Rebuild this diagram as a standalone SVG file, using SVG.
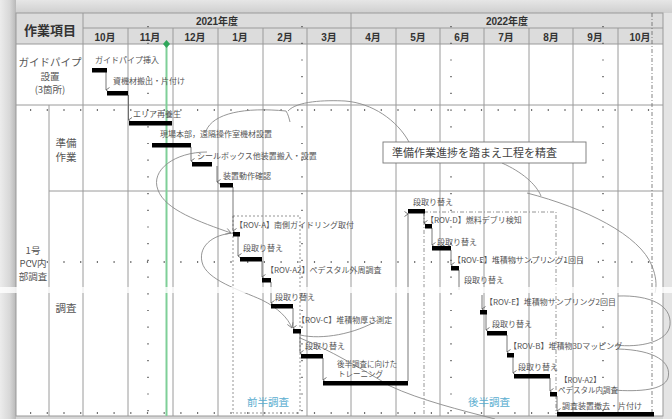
<svg xmlns="http://www.w3.org/2000/svg" width="672" height="419" viewBox="0 0 672 419">
<defs>
<linearGradient id="topg" x1="0" y1="0" x2="0" y2="1"><stop offset="0" stop-color="#e6e6e6"/><stop offset="1" stop-color="#cfcfcf"/></linearGradient>
<linearGradient id="leftg" x1="0" y1="0" x2="1" y2="0"><stop offset="0" stop-color="#ececec"/><stop offset="0.6" stop-color="#d8d8d8"/><stop offset="1" stop-color="#b8b8b8"/></linearGradient>
<marker id="ah" markerWidth="6" markerHeight="6" refX="3" refY="5" orient="auto" markerUnits="userSpaceOnUse">
<path d="M0.5,1.5 L3,5 L5.5,1.5" fill="none" stroke="#555" stroke-width="0.8"/>
</marker>
<marker id="ahc" markerWidth="8" markerHeight="8" refX="6" refY="4" orient="auto" markerUnits="userSpaceOnUse">
<path d="M1,1 L6,4 L1,7" fill="none" stroke="#777" stroke-width="0.8"/>
</marker>
</defs>
<style>
.hd{font-family:"Liberation Sans","Noto Sans CJK JP",sans-serif;font-weight:bold;fill:#333;text-anchor:middle}
.lb{font-family:"Noto Sans CJK JP",sans-serif;fill:#555;font-size:10.5px;text-anchor:middle}
.lbs{font-family:"Noto Sans CJK JP",sans-serif;fill:#555;font-size:9.5px;text-anchor:middle}
.t{font-family:"Noto Sans CJK JP",sans-serif;fill:#555;font-size:8px}
.g{stroke:#9a9a9a;stroke-width:1;fill:none}
.bar{fill:#000}
.c{stroke:#555;stroke-width:0.8;fill:none}
.cv{stroke:#8a8a8a;stroke-width:0.9;fill:none}
.dot{stroke:#444;stroke-width:1.3;fill:none}
.ph{font-family:"Noto Sans CJK JP",sans-serif;fill:#5aaed0;font-size:10.5px;text-anchor:middle}
</style>
<rect x="0" y="0" width="672" height="419" fill="#d6d6d6"/>
<rect x="0" y="0" width="672" height="13" fill="url(#topg)"/>
<rect x="0" y="0" width="16" height="419" fill="url(#leftg)"/>
<rect x="663" y="13" width="9" height="406" fill="#e4e4e4"/>
<g id="table">
<rect x="16" y="13" width="647" height="403" fill="#fff"/>
<rect x="16" y="13" width="647" height="31" fill="#dcdcdc"/>
<line class="g" x1="83" y1="28" x2="663" y2="28"/>
<line class="g" x1="16" y1="44" x2="663" y2="44" stroke="#888"/>
<line class="g" x1="16" y1="105" x2="663" y2="105"/>
<line class="g" x1="49" y1="191" x2="663" y2="191"/>
<line class="g" x1="49" y1="105" x2="49" y2="416"/>
<line class="g" x1="83" y1="13" x2="83" y2="416"/>
<line class="g" x1="351" y1="13" x2="351" y2="416"/>
<g class="g">
<line x1="128" y1="28" x2="128" y2="416"/><line x1="173" y1="28" x2="173" y2="416"/>
<line x1="218" y1="28" x2="218" y2="416"/><line x1="263" y1="28" x2="263" y2="416"/>
<line x1="307" y1="28" x2="307" y2="416"/><line x1="396" y1="28" x2="396" y2="416"/>
<line x1="440" y1="28" x2="440" y2="416"/><line x1="484" y1="28" x2="484" y2="416"/>
<line x1="529" y1="28" x2="529" y2="416"/><line x1="573" y1="28" x2="573" y2="416"/>
<line x1="618" y1="28" x2="618" y2="416"/>
</g>
<rect x="16" y="13" width="647" height="403" fill="none" stroke="#999"/>
<g class="dot" stroke-dasharray="1.2,15.5">
<line x1="30" y1="110" x2="663" y2="110"/>
<line x1="30" y1="262" x2="663" y2="262"/>
<line x1="30" y1="413" x2="663" y2="413"/>
<line x1="148" y1="26" x2="148" y2="416"/>
<line x1="302" y1="26" x2="302" y2="416"/>
<line x1="451" y1="26" x2="451" y2="416"/>
<line x1="603" y1="26" x2="603" y2="416"/>
</g>
<line x1="652" y1="13" x2="652" y2="416" stroke="#666" stroke-width="0.8" stroke-dasharray="4,2,1,2"/>
<text class="hd" x="50" y="35" font-size="13">作業項目</text>
<text class="hd" x="217" y="25" font-size="10">2021年度</text>
<text class="hd" x="507" y="25" font-size="10">2022年度</text>
<g class="hd" font-size="10">
<text x="105" y="41">10月</text><text x="150" y="41">11月</text><text x="195" y="41">12月</text>
<text x="240" y="41">1月</text><text x="285" y="41">2月</text><text x="329" y="41">3月</text>
<text x="373" y="41">4月</text><text x="418" y="41">5月</text><text x="462" y="41">6月</text>
<text x="506" y="41">7月</text><text x="551" y="41">8月</text><text x="595" y="41">9月</text>
<text x="640" y="41">10月</text>
</g>
</g>
<g id="label-guide">
<text class="lb" x="50" y="66" font-size="10">ガイドパイプ</text>
<text class="lbs" x="50" y="80">設置</text>
<text class="lbs" x="50" y="93">(3箇所)</text>
</g>
<g id="label-pcv">
<text class="lbs" x="33" y="254">1号</text>
<text class="lbs" x="33" y="267">PCV内</text>
<text class="lbs" x="33" y="280">部調査</text>
</g>
<g id="label-prep">
<text class="lb" x="66" y="147">準備</text>
<text class="lb" x="66" y="161">作業</text>
</g>
<g id="label-survey">
<text class="lb" x="66" y="312">調査</text>
</g>
<g id="phase-boxes">
<path d="M233,216 L300,216 L300,413 M233,216 L233,413 L300,413" fill="none" stroke="#888" stroke-width="0.9" stroke-dasharray="2,2"/>
<path d="M424,212 L556,212 L556,414 M424,212 L424,414" fill="none" stroke="#888" stroke-width="0.9" stroke-dasharray="4,2,1,2"/>
<text class="ph" x="268" y="406">前半調査</text>
<text class="ph" x="489" y="406">後半調査</text>
</g>
<g id="today">
<line x1="166.5" y1="44" x2="166.5" y2="416" stroke="#7fcf98" stroke-width="2"/>
<path d="M166.5,40 L170,44 L166.5,48 L163,44 Z" fill="#2fa65a"/>
</g>
<g id="connectors">
<line class="c" x1="106" y1="72" x2="106" y2="90" marker-end="url(#ah)"/>
<line class="c" x1="128.5" y1="95" x2="128.5" y2="120" marker-end="url(#ah)"/>
<line class="c" x1="191" y1="147" x2="191" y2="161" marker-end="url(#ah)"/>
<line class="c" x1="217" y1="166" x2="217" y2="182" marker-end="url(#ah)"/>
<line class="c" x1="233" y1="187" x2="233" y2="231" marker-end="url(#ah)"/>
<line class="c" x1="238" y1="236" x2="238" y2="256" marker-end="url(#ah)"/>
<line class="c" x1="262" y1="261" x2="262" y2="277" marker-end="url(#ah)"/>
<line class="c" x1="271" y1="282" x2="271" y2="303" marker-end="url(#ah)"/>
<line class="c" x1="293" y1="308" x2="293" y2="328" marker-end="url(#ah)"/>
<line class="c" x1="300" y1="333" x2="300" y2="353" marker-end="url(#ah)"/>
<line class="c" x1="323" y1="358" x2="323" y2="380" marker-end="url(#ah)"/>
<line class="c" x1="408" y1="381" x2="408" y2="214" marker-end="url(#ah)"/>
<line class="c" x1="424" y1="213" x2="424" y2="223" marker-end="url(#ah)"/>
<line class="c" x1="432" y1="228" x2="432" y2="245" marker-end="url(#ah)"/>
<line class="c" x1="451" y1="250" x2="451" y2="265" marker-end="url(#ah)"/>
<line class="c" x1="459" y1="270" x2="459" y2="290"/>
<line class="c" x1="482" y1="295" x2="482" y2="309" marker-end="url(#ah)"/>
<line class="c" x1="486" y1="314" x2="486" y2="330" marker-end="url(#ah)"/>
<line class="c" x1="507" y1="335" x2="507" y2="352" marker-end="url(#ah)"/>
<line class="c" x1="513" y1="357" x2="513" y2="373" marker-end="url(#ah)"/>
<line class="c" x1="550" y1="378" x2="550" y2="391" marker-end="url(#ah)"/>
<line class="c" x1="557" y1="396" x2="557" y2="411" marker-end="url(#ah)"/>
<path class="cv" d="M206,131 C213,113 245,107 286,111 C288,114 289,118 290,122"/>
<path class="cv" d="M288,111 C297,101 325,100 345,101 C372,103 397,120 409,142"/>
<path class="cv" d="M502,163 C522,172 536,184 541,196"/>
<path class="cv" d="M527,193 C585,208 640,235 652,266 C656,276 657,285 655,293"/>
<path class="cv" d="M618,296 C650,295 672,305 670,325 C668,342 640,348 615,345"/>
<path class="cv" d="M618,349 C655,350 672,362 668,378 C664,390 640,392 612,390"/>
<path class="cv" d="M207,152 C175,152 150,170 158,190 C165,210 200,222 231,233" marker-end="url(#ahc)"/>
<path class="cv" d="M240,233 C215,232 198,245 202,262 C206,280 240,290 262,300 C278,308 288,318 292,328" marker-end="url(#ahc)"/>
<path class="cv" d="M300,335 C322,340 355,334 378,320"/>
<path class="cv" d="M300,338 C330,350 360,368 390,386 C420,400 460,410 495,419"/>
</g>
<g id="callout">
<rect x="383" y="142" width="203" height="21" fill="#fff" stroke="#777" stroke-width="0.9"/>
<text x="392" y="156.5" font-family="Noto Sans CJK JP,sans-serif" font-size="11" fill="#444">準備作業進捗を踏まえ工程を精査</text>
</g>
<g id="bars">
<rect class="bar" x="92" y="68" width="15" height="4.5"/>
<rect class="bar" x="107" y="91" width="21" height="4.5"/>
<rect class="bar" x="129" y="121" width="43" height="4.5"/>
<rect class="bar" x="152" y="143" width="39" height="4.5"/>
<rect class="bar" x="192" y="162" width="20" height="4.5"/>
<rect class="bar" x="220" y="183" width="13" height="4.5"/>
<rect class="bar" x="233" y="232" width="7" height="4.5"/>
<rect class="bar" x="240" y="257" width="22" height="4.5"/>
<rect class="bar" x="262" y="278" width="9" height="4.5"/>
<rect class="bar" x="271" y="304" width="22" height="4.5"/>
<rect class="bar" x="293" y="329" width="8" height="4.5"/>
<rect class="bar" x="301" y="354" width="22" height="4.5"/>
<rect class="bar" x="323" y="381" width="85" height="4.5"/>
<rect class="bar" x="408" y="209" width="17" height="4.5"/>
<rect class="bar" x="425" y="224" width="7" height="4.5"/>
<rect class="bar" x="432" y="246" width="19" height="4.5"/>
<rect class="bar" x="451" y="266" width="8" height="4.5"/>
<rect class="bar" x="480" y="310" width="7" height="4.5"/>
<rect class="bar" x="487" y="331" width="20" height="4.5"/>
<rect class="bar" x="507" y="353" width="7" height="4.5"/>
<rect class="bar" x="514" y="374" width="36" height="4.5"/>
<rect class="bar" x="550" y="392" width="7" height="4.5"/>
<rect class="bar" x="557" y="412" width="97" height="4.5"/>
</g>
<g id="task-labels" class="t">
<text x="95" y="63">ガイドパイプ挿入</text>
<text x="113" y="84">資機材搬出・片付け</text>
<text x="133" y="117">エリア再養生</text>
<text x="160" y="137">現場本部，遠隔操作室機材設置</text>
<text x="197" y="159">シールボックス他装置搬入・設置</text>
<text x="223" y="179">装置動作確認</text>
<text x="235" y="228">【ROV-A】南側ガイドリング取付</text>
<text x="243" y="251">段取り替え</text>
<text x="266" y="273">【ROV-A2】ペデスタル外周調査</text>
<text x="275" y="300">段取り替え</text>
<text x="297" y="323">【ROV-C】堆積物厚さ測定</text>
<text x="305" y="349">段取り替え</text>
<text x="337" y="367" font-size="7.5">後半調査に向けた</text>
<text x="338" y="377" font-size="7.5">トレーニング</text>
<text x="413" y="205">段取り替え</text>
<text x="426" y="223">【ROV-D】燃料デブリ検知</text>
<text x="437" y="245">段取り替え</text>
<text x="453" y="263">【ROV-E】堆積物サンプリング1回目</text>
<text x="464" y="283">段取り替え</text>
<text x="485" y="305">【ROV-E】堆積物サンプリング2回目</text>
<text x="492" y="327">段取り替え</text>
<text x="509" y="349">【ROV-B】堆積物3Dマッピング</text>
<text x="518" y="370">段取り替え</text>
<text x="560" y="383" font-size="7.5">【ROV-A2】</text>
<text x="558" y="393" font-size="7.5">ペデスタル内調査</text>
<text x="562" y="409">調査装置撤去・片付け</text>
</g>
<rect x="0" y="287" width="672" height="6" fill="#fff" opacity="0.8"/>
</svg>
